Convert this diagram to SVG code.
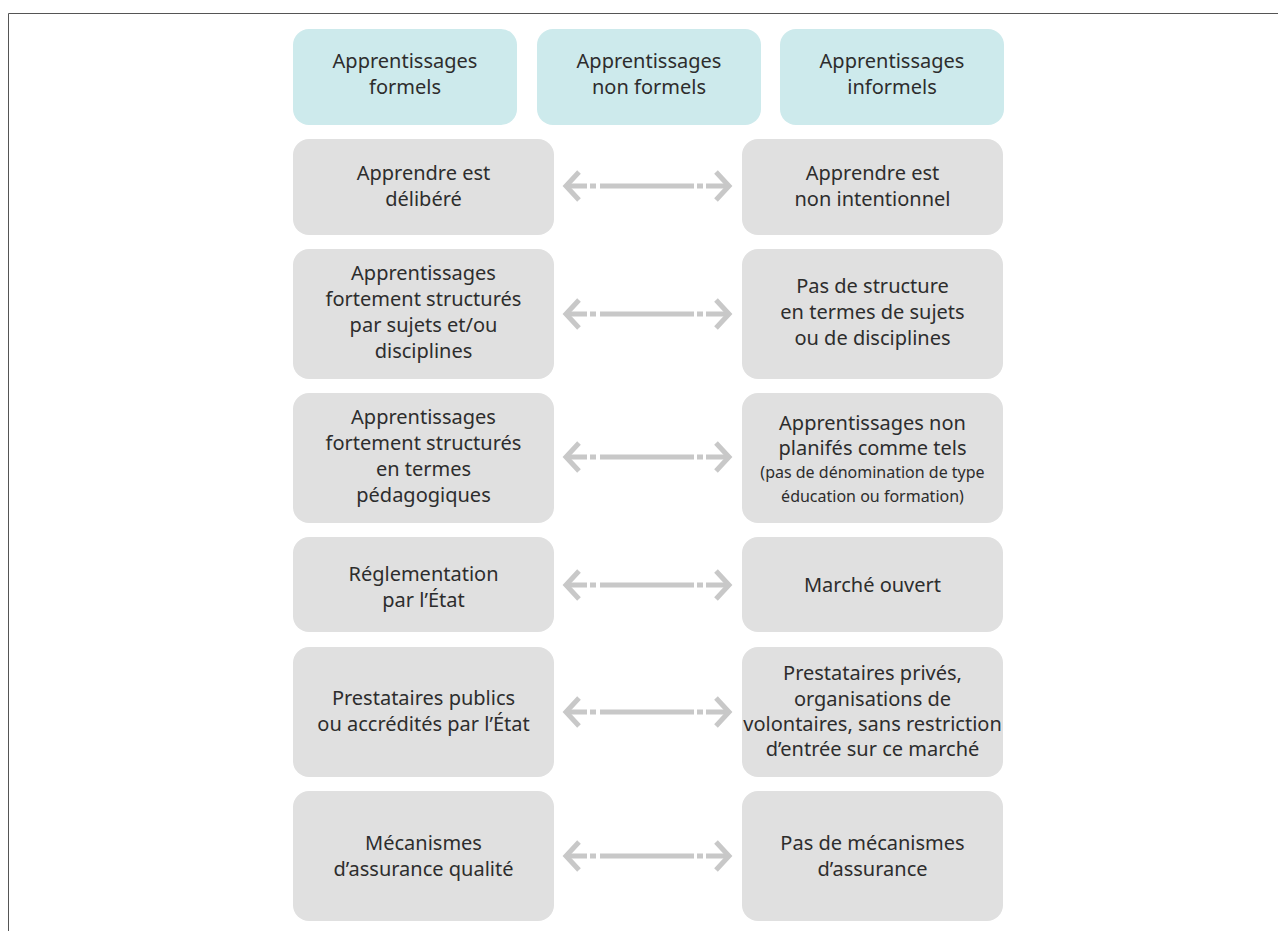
<svg xmlns="http://www.w3.org/2000/svg" width="1278" height="931" viewBox="0 0 1278 931">
<style>
.hd{fill:#cdeaec}
.bx{fill:#e0e0e0}
text{font-family:"Noto Sans","Open Sans","DejaVu Sans",sans-serif;font-size:20px;fill:#2d2d2d;text-anchor:middle}
text.sm{font-size:16px}
.arr{fill:none;stroke:#c8c8c8;stroke-width:5;stroke-linejoin:miter}
.frame{fill:none;stroke:#555;stroke-width:1}
</style>
<defs>
<g id="arrow" class="arr">
<polyline points="579,-14 566,0 579,14"/>
<polyline points="716,-14 729,0 716,14"/>
<path d="M566,0H587M590,0H596M600,0H694M697,0H703M706,0H729"/>
</g>
</defs>
<rect width="1278" height="931" fill="#fff"/>
<path class="frame" d="M8.5,931V13.5H1278"/>

<g id="header-formels">
<rect class="hd" x="293" y="29" width="224" height="96" rx="16"/>
<text x="405" y="68">Apprentissages</text>
<text x="405" y="94">formels</text>
</g>
<g id="header-non-formels">
<rect class="hd" x="537" y="29" width="224" height="96" rx="16"/>
<text x="649" y="68">Apprentissages</text>
<text x="649" y="94">non formels</text>
</g>
<g id="header-informels">
<rect class="hd" x="780" y="29" width="224" height="96" rx="16"/>
<text x="892" y="68">Apprentissages</text>
<text x="892" y="94">informels</text>
</g>

<g id="l1">
<rect class="bx" x="293" y="139" width="261" height="96" rx="16"/>
<text x="423.5" y="180">Apprendre est</text>
<text x="423.5" y="206">délibéré</text>
</g>
<g id="r1">
<rect class="bx" x="742" y="139" width="261" height="96" rx="16"/>
<text x="872.5" y="180">Apprendre est</text>
<text x="872.5" y="206">non intentionnel</text>
</g>

<g id="l2">
<rect class="bx" x="293" y="249" width="261" height="130" rx="16"/>
<text x="423.5" y="280">Apprentissages</text>
<text x="423.5" y="306">fortement structurés</text>
<text x="423.5" y="332">par sujets et/ou</text>
<text x="423.5" y="358">disciplines</text>
</g>
<g id="r2">
<rect class="bx" x="742" y="249" width="261" height="130" rx="16"/>
<text x="872.5" y="293">Pas de structure</text>
<text x="872.5" y="319">en termes de sujets</text>
<text x="872.5" y="345">ou de disciplines</text>
</g>

<g id="l3">
<rect class="bx" x="293" y="393" width="261" height="130" rx="16"/>
<text x="423.5" y="424">Apprentissages</text>
<text x="423.5" y="450">fortement structurés</text>
<text x="423.5" y="476">en termes</text>
<text x="423.5" y="502">pédagogiques</text>
</g>
<g id="r3">
<rect class="bx" x="742" y="393" width="261" height="130" rx="16"/>
<text x="872.5" y="430">Apprentissages non</text>
<text x="872.5" y="455">planifés comme tels</text>
<text class="sm" x="872.5" y="478">(pas de dénomination de type</text>
<text class="sm" x="872.5" y="502">éducation ou formation)</text>
</g>

<g id="l4">
<rect class="bx" x="293" y="537" width="261" height="95" rx="16"/>
<text x="423.5" y="581">Réglementation</text>
<text x="423.5" y="607">par l’État</text>
</g>
<g id="r4">
<rect class="bx" x="742" y="537" width="261" height="95" rx="16"/>
<text x="872.5" y="592">Marché ouvert</text>
</g>

<g id="l5">
<rect class="bx" x="293" y="647" width="261" height="130" rx="16"/>
<text x="423.5" y="705">Prestataires publics</text>
<text x="423.5" y="731">ou accrédités par l’État</text>
</g>
<g id="r5">
<rect class="bx" x="742" y="647" width="261" height="130" rx="16"/>
<text x="872.5" y="680">Prestataires privés,</text>
<text x="872.5" y="705.5">organisations de</text>
<text x="872.5" y="731">volontaires, sans restriction</text>
<text x="872.5" y="756">d’entrée sur ce marché</text>
</g>

<g id="l6">
<rect class="bx" x="293" y="791" width="261" height="130" rx="16"/>
<text x="423.5" y="850">Mécanismes</text>
<text x="423.5" y="876">d’assurance qualité</text>
</g>
<g id="r6">
<rect class="bx" x="742" y="791" width="261" height="130" rx="16"/>
<text x="872.5" y="850">Pas de mécanismes</text>
<text x="872.5" y="876">d’assurance</text>
</g>

<g id="connectors">
<use href="#arrow" y="186"/>
<use href="#arrow" y="314"/>
<use href="#arrow" y="457"/>
<use href="#arrow" y="585"/>
<use href="#arrow" y="712"/>
<use href="#arrow" y="856"/>
</g>
</svg>
